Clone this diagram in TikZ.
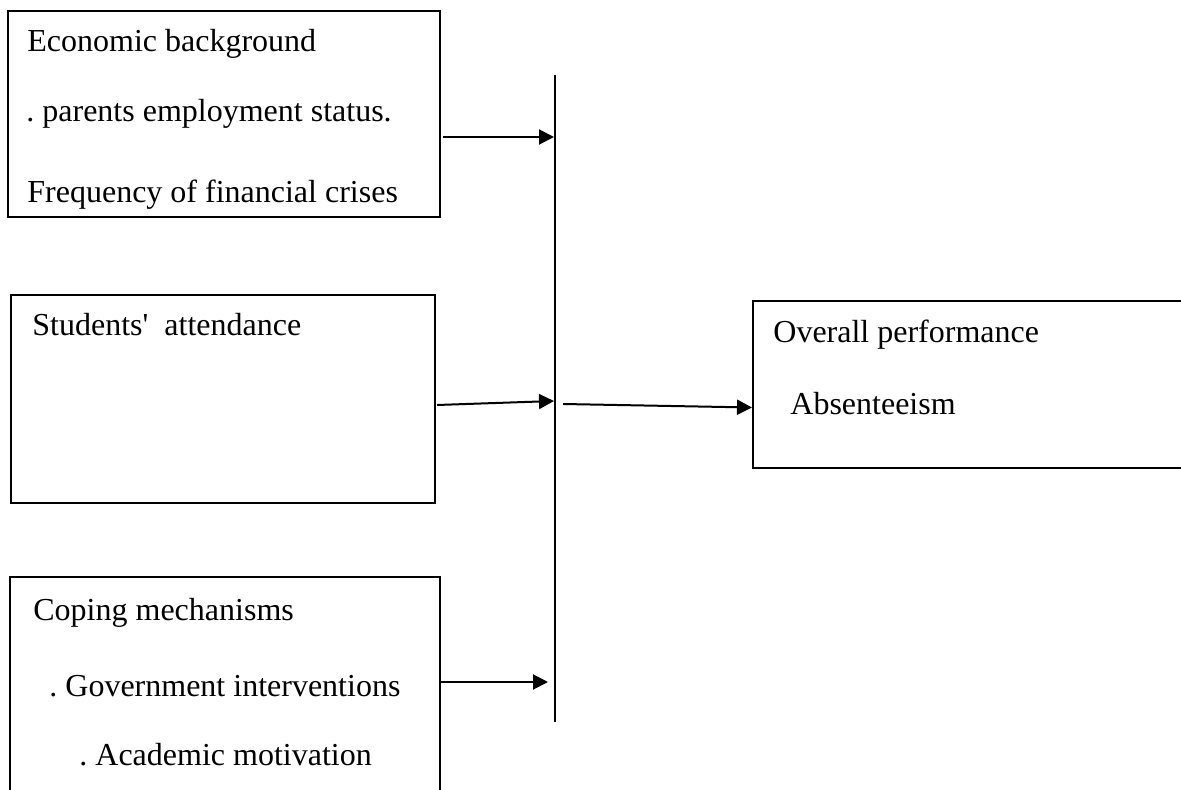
\documentclass[tikz,border=0pt]{standalone}
\usepackage{fontspec}
\setmainfont{Liberation Serif}[Ligatures=TeXOff]
\usetikzlibrary{arrows.meta,fit}
\begin{document}
\frenchspacing
\begin{tikzpicture}[x=0.5pt,y=-0.5pt,
  box/.style={draw,line width=1pt,inner sep=0pt},
  lbl/.style={anchor=base west,inner sep=0pt,font=\fontsize{16pt}{19pt}\selectfont\frenchspacing},
  arr/.style={line width=1pt,-{Triangle[length=7.5pt,width=7.5pt]}},
  barline/.style={line width=1.1pt}]
\clip (0,0) rectangle (1181,790);
% boxes
\node[box,fit={(8,11)(440,217)}] (b1) {};
\node[box,fit={(11,295)(435,503)}] (b2) {};
\node[box,fit={(10,577)(440,820)}] (b3) {};
\node[box,fit={(753,301)(1220,468)}] (b4) {};
% texts
\node[lbl] (t11) at (27,52) {Economic background};
\node[lbl] (t12) at (26,122) {. parents employment status.};
\node[lbl] (t13) at (27,203) {Frequency of financial crises};
\node[lbl] (t2) at (32,336) {Students'\ \ attendance};
\node[lbl] (t41) at (773,343) {Overall performance};
\node[lbl] (t42) at (790,415) {Absenteeism};
\node[lbl] (t31) at (33,620) {Coping mechanisms};
\node[lbl] (t32) at (49,696) {. Government interventions};
\node[lbl] (t33) at (79,765) {. Academic motivation};
% vertical bar
\coordinate (bartop) at (555,75);
\coordinate (barbot) at (555,722);
\draw[barline] (bartop) -- (barbot);
% arrow end points on the bar
\coordinate (p1) at (554,137);
\coordinate (p2) at (554,401);
\coordinate (q3) at (563,404);
\coordinate (p4) at (548,682);
% arrows
\draw[arr] ([xshift=1pt]b1.east |- p1) -- (p1);
\draw[arr] ([xshift=0.5pt,yshift=-3pt]b2.east) -- (p2);
\draw[arr] (q3) -- ([yshift=-11.5pt]b4.west);
\draw[arr] ([xshift=-1pt]b3.east |- p4) -- (p4);
\end{tikzpicture}
\end{document}
